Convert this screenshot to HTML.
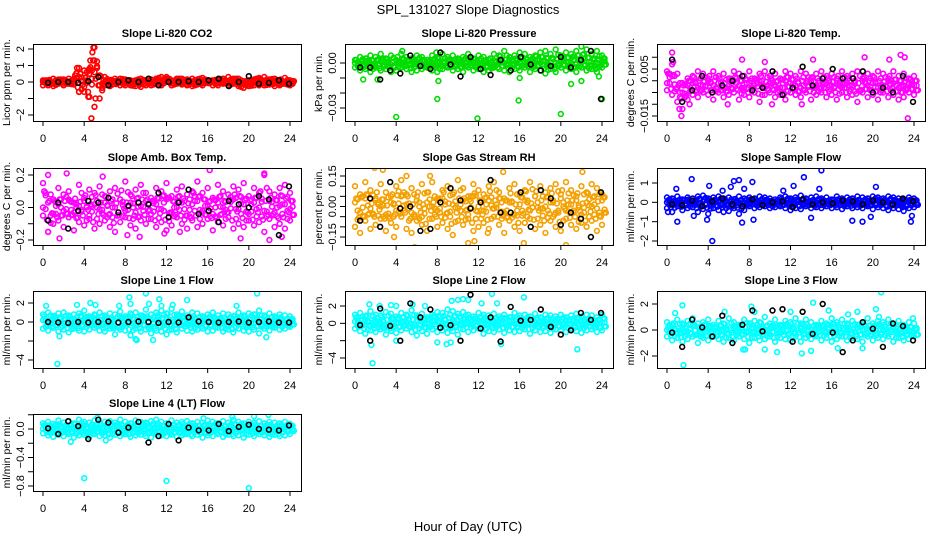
<!DOCTYPE html>
<html><head><meta charset="utf-8"><style>
html,body{margin:0;padding:0;background:#fff;}
svg{display:block;font-family:"Liberation Sans",sans-serif;}
</style></head><body>
<svg id="chart" width="936" height="540" viewBox="0 0 936 540" xmlns="http://www.w3.org/2000/svg">
<rect x="0" y="0" width="936" height="540" fill="#fff"/>
<text x="468" y="14" text-anchor="middle" font-size="13">SPL_131027  Slope Diagnostics</text>
<text x="468" y="531" text-anchor="middle" font-size="13">Hour of Day (UTC)</text>
</svg>
<script>
// ---- data ----
const hourTicks = [0,4,8,12,16,20,24];
const p1A=[-0.2,0.1,0.2,-0.1,0.15,0.2,-0.15,0.85,0.7,0.8,1.3,-0.2,0.3,0.1,0.2,-0.2,0.15,0.1,-0.25,0.2,0.1,0.15,-0.1,0.3,0.2,0.1,-0.1,0.2,0.15,0.2,-0.15,0.25,0.1,-0.2,0.15,0.2,0.3,-0.1,0.2,-0.35,0.1,-0.2,0.25,0.3,-0.15,0.2,0.1,0.25,-0.2];
const p1B=[0.1,-0.2,-0.25,0.15,-0.2,-0.1,0.2,-0.6,-0.6,-0.9,2.1,-1.0,-0.2,-0.25,0.05,0.2,-0.2,-0.2,0.1,-0.3,-0.2,-0.2,0.2,-0.2,0.3,-0.2,0.2,-0.15,-0.2,-0.25,0.15,-0.2,0.1,0.1,-0.2,-0.1,-0.2,0.2,-0.25,-0.1,-0.25,0.15,-0.2,-0.2,0.15,-0.25,-0.2,-0.1,0.1];
const p1C=[0,0.05,-0.05,0,0.05,0,-0.05,0.3,-0.3,0.5,0.6,0.4,0,0.05,-0.05,0,0,0.05,-0.05,0,0.05,0,-0.05,0,0.05,0,0,-0.05,0.05,0,0,-0.05,0.05,0,0,0.05,-0.05,0,0.05,0,-0.05,0,0.05,0,0,-0.05,0.05,0,0];
const p1OutX=[3.3,3.5,4.4,4.6,4.7,4.8,4.9,5.0,5.1,4.5];
const p1OutY=[0.85,-0.6,-0.9,1.3,-2.2,1.8,2.1,-1.5,-1.0,0.7];
const p1K=[-0.05,0,0,-0.05,0.05,0.3,-0.2,0,0.1,0,0.2,-0.2,0,0,0.05,0,0.1,0.2,-0.25,0,0.35,-0.1,-0.05,0.1,-0.1];

const p2A=[0.002,0.004,0.003,0.005,0.004,0.006,0.003,0.005,0.002,0.006,0.004,0.003,0.005,0.004,0.002,0.005,0.003,0.006,0.004,0.005,0.003,0.004,0.006,0.003,0.005,0.004,0.002,0.006,0.005,0.008,0.004,0.005,0.007,0.006,0.004,0.005,0.007,0.008,0.006,0.009,0.005,0.007,0.006,0.008,0.011,0.009,0.006,0.008,0.005];
const p2B=[-0.003,-0.005,-0.004,-0.006,-0.003,-0.005,-0.004,-0.006,-0.005,-0.003,-0.004,-0.006,-0.005,-0.004,-0.003,-0.005,-0.006,-0.004,-0.003,-0.005,-0.004,-0.006,-0.003,-0.005,-0.004,-0.006,-0.005,-0.003,-0.004,-0.005,-0.006,-0.004,-0.005,-0.003,-0.006,-0.004,-0.005,-0.007,-0.004,-0.006,-0.003,-0.005,-0.004,-0.006,-0.003,-0.005,-0.004,-0.006,-0.003];
const p2C=[0,-0.001,0.001,0,-0.002,0.001,0,-0.001,0.002,0,-0.001,0.001,0,0.002,-0.001,0,0.001,-0.002,0,0.001,0,-0.001,0.002,0,-0.001,0.001,0,-0.002,0.001,0,0.002,-0.001,0,0.001,-0.001,0.002,0,0.001,-0.002,0,0.002,0.001,0,-0.001,0.002,0.001,-0.002,0,0.001];
const p2OutX=[0.8,2.2,4.0,4.6,8.0,8.1,11.9,15.9,16.0,20.0,21.0,22.0,23.7,24.0,7.9];
const p2OutY=[-0.011,-0.011,-0.036,0.008,-0.024,-0.012,-0.037,-0.025,-0.01,-0.034,-0.014,-0.012,-0.009,-0.024,0.007];
const p2K=[-0.003,-0.003,-0.011,-0.005,-0.007,0.005,-0.002,-0.004,0.007,-0.001,-0.009,0.004,-0.004,-0.008,0.002,-0.005,0.004,-0.001,-0.005,-0.002,0.004,-0.003,0.002,0.008,-0.024];

const p3A=[0.004,0.007,0.003,-0.001,0.001,0.002,0.004,0.003,0.001,0.004,0.002,0.003,0.001,0.004,0.003,0.002,0.004,0.001,0.003,0.004,0.002,0.003,0.001,0.004,0.003,0.002,0.004,0.003,0.001,0.003,0.004,0.002,0.003,0.001,0.004,0.002,0.003,0.004,0.001,0.003,0.002,0.004,0.003,0.001,0.004,0.002,0.003,0.001,0.002];
const p3B=[-0.004,-0.006,-0.009,-0.012,-0.008,-0.006,-0.007,-0.005,-0.006,-0.008,-0.005,-0.007,-0.006,-0.005,-0.008,-0.006,-0.007,-0.005,-0.009,-0.006,-0.005,-0.007,-0.006,-0.008,-0.005,-0.006,-0.007,-0.005,-0.008,-0.006,-0.005,-0.007,-0.006,-0.008,-0.005,-0.007,-0.006,-0.009,-0.005,-0.007,-0.006,-0.008,-0.005,-0.007,-0.006,-0.008,-0.007,-0.005,-0.006];
const p3C=[-0.001,0.002,-0.003,-0.005,-0.002,-0.001,-0.003,-0.002,0,-0.002,-0.001,-0.003,-0.002,0,-0.002,-0.003,-0.001,-0.002,0,-0.003,-0.001,-0.002,-0.003,0,-0.001,-0.002,-0.003,-0.001,0,-0.002,-0.003,-0.001,-0.002,0,-0.003,-0.001,-0.002,-0.003,0,-0.002,-0.001,-0.003,-0.002,0,-0.001,-0.003,-0.002,-0.001,-0.002];
const p3OutX=[0.5,1.2,1.4,2.2,5.9,7.3,9.5,10.2,13.1,14.2,19.2,21.6,22.7,23.4,23.1,0.6];
const p3OutY=[0.012,-0.012,-0.015,-0.01,-0.01,0.009,0.008,-0.01,-0.01,0.009,0.01,0.009,0.011,-0.016,0.01,0.008];
const p3K=[0.009,-0.009,-0.004,0.002,-0.005,-0.002,0,0.002,-0.004,-0.003,0.004,-0.006,-0.003,0.006,-0.002,0.001,0.005,0.001,0.001,0.004,-0.005,-0.003,-0.005,0.002,-0.009];

const p4A=[0.15,0.2,0.05,0.12,0.08,0.1,0.03,0.14,0.06,0.11,0.09,0.13,0.07,0.1,0.12,0.05,0.16,0.08,0.11,0.14,0.09,0.06,0.12,0.1,0.15,0.07,0.11,0.13,0.08,0.1,0.16,0.09,0.12,0.06,0.14,0.1,0.08,0.13,0.11,0.15,0.07,0.12,0.09,0.2,0.1,0.08,0.12,0.14,0.09];
const p4B=[-0.05,-0.15,-0.1,-0.08,-0.12,-0.06,-0.14,-0.09,-0.11,-0.07,-0.13,-0.1,-0.08,-0.12,-0.15,-0.09,-0.06,-0.11,-0.13,-0.08,-0.1,-0.07,-0.12,-0.09,-0.14,-0.11,-0.06,-0.1,-0.13,-0.08,-0.12,-0.1,-0.07,-0.14,-0.09,-0.11,-0.06,-0.13,-0.1,-0.12,-0.08,-0.11,-0.09,-0.15,-0.07,-0.12,-0.1,-0.13,-0.08];
const p4C=[0,0.03,-0.04,0.02,-0.02,0.05,-0.03,0.01,0.04,-0.05,0.02,-0.01,0.03,-0.04,0,0.05,-0.02,0.03,-0.03,0.01,0.04,-0.04,0.02,-0.01,0.05,-0.03,0,0.03,-0.05,0.02,0.04,-0.02,0.01,-0.04,0.03,0,-0.03,0.05,-0.01,0.02,-0.04,0.03,0,-0.02,0.04,-0.03,0.01,0.02,-0.01];
const p4OutX=[0.5,2.3,1.6,5.8,8.2,13.3,9.4,16.2,19.2,21.5,22.0,23.2,11.8];
const p4OutY=[-0.15,0.21,-0.19,0.19,-0.17,-0.15,-0.18,0.23,-0.19,0.21,-0.2,-0.18,-0.16];
const p4K=[-0.08,0.03,-0.13,-0.02,0.04,0.03,0.06,-0.03,0.01,0.03,0.02,0.09,-0.06,0.03,0.11,-0.04,-0.02,-0.09,0.04,0.02,0,0.07,0.05,-0.17,0.13];

const p5A=[0.1,0.06,0.12,0.08,0.04,0.11,0.07,0.05,0.1,0.13,0.06,0.09,0.05,0.11,0.07,0.12,0.04,0.08,0.1,0.06,0.13,0.09,0.05,0.11,0.08,0.06,0.1,0.12,0.07,0.04,0.09,0.11,0.06,0.08,0.12,0.05,0.1,0.07,0.09,0.11,0.06,0.12,0.08,0.05,0.1,0.07,0.11,0.09,0.06];
const p5B=[-0.1,-0.13,-0.07,-0.11,-0.09,-0.06,-0.12,-0.08,-0.1,-0.05,-0.11,-0.13,-0.07,-0.09,-0.12,-0.06,-0.1,-0.08,-0.11,-0.14,-0.07,-0.09,-0.06,-0.12,-0.1,-0.08,-0.11,-0.05,-0.09,-0.13,-0.07,-0.1,-0.12,-0.08,-0.06,-0.11,-0.09,-0.13,-0.07,-0.1,-0.12,-0.06,-0.09,-0.11,-0.08,-0.1,-0.07,-0.12,-0.09];
const p5C=[0.02,-0.03,0.04,-0.01,0.03,0,-0.04,0.02,-0.02,0.05,0.01,-0.03,0.03,-0.05,0.02,0,-0.02,0.04,-0.03,0.01,-0.01,0.03,-0.04,0.05,0,-0.02,0.03,-0.01,0.04,-0.03,0.02,-0.04,0.01,0.03,-0.02,0.05,-0.01,0,0.02,-0.03,0.04,-0.02,0.01,0.03,-0.04,0.02,0,-0.01,0.03];
const p5OutX=[1.9,2.7,3.8,5.8,7.3,11.0,12.9,14.4,16.4,20.5,22.1,5.0,11.6];
const p5OutY=[0.19,0.18,-0.15,-0.2,0.15,-0.18,-0.13,0.17,-0.18,-0.19,0.17,0.15,-0.17];
const p5K=[-0.07,0.04,-0.1,0.12,-0.01,0,-0.12,-0.11,0.02,0.09,0.03,-0.01,0.02,0.13,-0.03,-0.03,0.07,-0.1,0.08,0.04,-0.09,-0.03,-0.06,-0.15,0.07];

const p6A=[0.25,0.2,0.3,0.15,0.25,0.2,0.3,0.35,0.2,0.25,0.3,0.2,0.25,0.15,0.3,0.2,0.25,0.2,0.3,0.25,0.2,0.15,0.25,0.3,0.2,0.25,0.35,0.2,0.25,0.3,0.2,0.25,0.15,0.3,0.2,0.25,0.2,0.3,0.25,0.2,0.3,0.25,0.2,0.3,0.25,0.2,0.15,0.25,0.2];
const p6B=[-0.3,-0.5,-0.2,-0.4,-0.3,-0.25,-0.5,-0.35,-0.6,-0.3,-0.4,-0.5,-0.45,-0.3,-0.6,-0.4,-0.2,-0.3,-0.25,-0.2,-0.3,-0.25,-0.2,-0.3,-0.4,-0.3,-0.35,-0.2,-0.3,-0.25,-0.3,-0.2,-0.3,-0.25,-0.35,-0.2,-0.3,-0.25,-0.3,-0.2,-0.35,-0.25,-0.3,-0.4,-0.3,-0.35,-0.45,-0.3,-0.25];
const p6C=[0,0.05,-0.05,0,0.1,-0.1,0,0.05,0.1,-0.05,0,0.1,-0.1,0.05,0,-0.05,0.1,0,-0.05,0.05,0,-0.1,0.05,0,0.1,-0.05,0,0.05,-0.1,0,0.05,0,-0.05,0.1,0,-0.05,0.05,0,-0.1,0.05,0,0.1,-0.05,0,0.05,-0.05,0,0.05,0];
const p6OutX=[0.1,0.9,1.0,2.4,2.6,4.1,4.4,5.4,6.5,7.0,7.5,7.3,8.3,8.4,11.3,12.3,13.3,14.0,14.8,15.0,18.0,19.0,19.8,20.3,23.7,23.8,3.9,6.2];
const p6OutY=[-0.5,0.7,-1.0,1.2,-0.7,0.85,-2.0,0.6,1.1,1.15,0.7,-1.05,1.05,-0.9,0.6,0.85,1.3,-0.8,0.7,1.65,-0.95,-1.0,-0.75,0.8,-1.0,-0.7,-0.9,0.8];
const p6K=[-0.1,-0.15,0.1,-0.2,0.05,0.2,-0.1,-0.2,0.15,-0.15,0,0.05,-0.25,0.15,-0.1,0,-0.05,0.1,0.05,-0.1,0.1,0,-0.1,0.2,0.05];

const p7A=[0.8,1.0,0.6,0.9,1.0,0.7,0.8,0.9,1.2,0.6,0.8,1.0,0.7,0.9,0.8,1.1,0.6,0.9,1.0,0.7,1.3,0.8,1.0,1.2,0.9,1.4,0.8,1.1,0.7,1.0,0.9,0.6,0.8,1.0,0.7,0.9,0.8,0.6,1.0,0.7,0.9,0.8,1.2,0.7,0.9,0.6,0.8,0.7,0.6];
const p7B=[-0.7,-0.9,-0.6,-1.0,-0.8,-1.1,-0.7,-0.9,-1.0,-0.8,-0.6,-0.9,-1.0,-0.7,-1.3,-0.8,-0.9,-1.4,-0.7,-1.0,-0.8,-1.2,-0.9,-1.0,-1.3,-0.8,-1.1,-0.7,-0.9,-1.0,-0.8,-0.7,-1.0,-0.9,-0.6,-1.0,-0.8,-1.1,-0.7,-0.9,-1.0,-0.8,-1.2,-0.7,-0.9,-0.6,-0.8,-0.7,-0.5];
const p7C=[0.2,-0.3,0.4,0,-0.2,0.3,-0.4,0.1,0.3,-0.1,0.4,-0.3,0.2,0,-0.4,0.3,-0.2,0.5,-0.3,0.1,0.4,-0.5,0.2,-0.1,0.3,-0.4,0.1,0.5,-0.2,0.3,-0.3,0.2,0,0.4,-0.2,0.1,-0.4,0.3,0,0.2,-0.3,0.4,-0.1,0.2,-0.3,0.1,0.3,-0.2,0];
const p7OutX=[0.3,1.6,1.4,3.3,4.6,5.1,8.4,8.5,9.0,10.0,10.3,11.3,11.5,7.4,12.6,14.0,18.8,20.8,21.7,9.1,10.7];
const p7OutY=[1.7,-1.5,-4.4,1.8,2.0,1.8,2.6,1.9,-1.8,3.0,1.9,2.4,1.7,1.7,1.8,2.3,1.7,3.0,-1.6,-1.9,-1.9];
const p7K=[0,-0.05,-0.1,0,-0.05,0,0.05,-0.05,0,0.05,0,-0.1,0,-0.05,0.5,0.05,0,-0.05,0,0.05,-0.05,0,0.05,-0.05,-0.05];

const p8A=[1.0,1.2,0.8,1.4,1.0,0.9,1.3,1.1,0.8,1.2,1.0,1.5,0.9,1.1,0.7,1.0,1.3,1.2,1.6,1.4,1.1,1.3,1.0,0.8,1.2,1.0,0.9,1.1,0.8,1.0,0.7,1.2,0.9,1.0,0.8,1.1,0.7,1.0,0.9,0.8,1.0,0.7,0.9,1.1,0.8,1.0,0.9,0.7,1.0];
const p8B=[-0.6,-0.9,-1.2,-0.8,-1.0,-0.7,-1.3,-0.9,-1.1,-0.8,-0.6,-1.0,-1.4,-0.9,-1.2,-0.7,-1.0,-0.8,-1.1,-0.9,-1.3,-0.7,-1.0,-0.8,-0.6,-1.2,-0.9,-1.0,-0.7,-1.1,-0.8,-1.0,-0.9,-0.7,-1.2,-0.8,-1.0,-0.9,-1.1,-0.7,-0.8,-1.0,-0.6,-0.9,-1.1,-0.8,-0.7,-1.0,-0.8];
const p8C=[0.2,0,0.4,-0.2,0.3,0.1,-0.3,0.5,0,0.3,0.2,-0.1,0.4,0.2,0,0.3,0.5,0.1,-0.2,0.4,0.3,0.1,0.5,0,0.2,0.4,-0.1,0.3,0.1,0.5,0.2,0,0.3,-0.2,0.4,0.1,0.2,-0.1,0.3,0,0.2,0.4,-0.1,0.1,0.3,0,0.2,-0.2,0.1];
const p8OutX=[1.4,1.7,1.6,2.4,3.5,4.0,5.6,6.8,8.0,8.9,9.4,10.0,10.5,11.0,12.3,13.3,13.8,14.2,16.4,21.6,9.3,4.0];
const p8OutY=[2.2,-4.6,-2.5,2.0,2.1,-2.0,2.2,2.0,-2.2,-2.4,2.6,2.7,2.8,2.7,2.3,3.4,2.3,-2.4,3.0,-3.0,-2.2,2.0];
const p8K=[-0.2,-2.0,1.7,-0.3,-2.0,2.3,0.7,1.6,-0.5,-0.2,-2.0,3.3,-0.6,0.7,-2.1,1.9,0.3,0.4,1.6,-0.4,-1.3,-0.8,1.2,0.4,1.2];

const p9A=[0.6,0.4,0.8,0.5,0.7,0.9,0.5,0.6,0.8,0.4,0.7,0.5,0.9,0.6,0.4,0.8,0.5,0.7,0.6,1.0,0.5,0.8,0.4,0.7,0.6,0.9,0.5,0.8,0.6,0.4,0.7,0.5,0.9,0.6,0.8,0.5,0.7,0.4,0.6,0.9,0.5,0.7,0.6,0.8,0.5,0.7,0.4,0.6,0.5];
const p9B=[-0.5,-0.8,-0.6,-0.9,-0.7,-0.5,-1.0,-0.6,-0.8,-0.5,-0.7,-0.9,-0.6,-0.8,-0.5,-0.7,-1.0,-0.6,-0.8,-0.7,-0.5,-0.9,-0.6,-0.7,-0.8,-0.5,-0.9,-0.6,-0.7,-0.5,-0.8,-0.6,-0.9,-0.7,-0.5,-0.8,-0.6,-0.7,-0.9,-0.5,-0.8,-0.6,-0.7,-0.5,-0.9,-0.6,-0.8,-0.7,-0.5];
const p9C=[0,0.2,-0.2,0.1,-0.1,0.3,-0.3,0,0.2,-0.2,0.1,0,-0.3,0.2,0,-0.1,0.3,-0.2,0.1,0,-0.3,0.2,-0.1,0.3,0,-0.2,0.1,0.2,-0.3,0,0.2,-0.1,0.3,0,-0.2,0.1,-0.3,0.2,0,0.1,-0.2,0.3,0,-0.1,0.2,-0.3,0.1,0,-0.2];
const p9OutX=[0.8,1.5,1.6,5.6,7.4,7.6,8.2,8.5,9.5,10.7,12.0,13.1,14.2,14.0,15.7,16.6,17.6,18.5,19.0,20.8,20.3,23.9,20.6];
const p9OutY=[1.3,1.9,-2.7,1.4,-1.5,-1.5,1.8,1.4,-1.5,-1.7,1.4,-1.8,2.1,-1.6,1.5,-1.4,1.2,1.4,-1.4,2.9,1.6,0.9,1.0];
const p9K=[-0.2,-1.3,0.8,0.2,-0.5,1.1,-1.0,0.4,1.5,-0.1,1.5,1.6,-0.9,1.4,-0.3,2.0,-0.2,-1.7,-0.8,0.6,0.1,-1.3,0.5,0.3,-0.8];

const p10A=[0.08,0.1,0.07,0.12,0.09,0.11,0.08,0.13,0.1,0.09,0.12,0.08,0.1,0.11,0.09,0.13,0.1,0.08,0.12,0.1,0.09,0.11,0.13,0.1,0.08,0.12,0.09,0.1,0.11,0.08,0.1,0.09,0.12,0.1,0.08,0.11,0.09,0.13,0.1,0.08,0.1,0.09,0.11,0.08,0.1,0.09,0.08,0.1,0.07];
const p10B=[-0.06,-0.09,-0.11,-0.08,-0.1,-0.07,-0.12,-0.09,-0.08,-0.11,-0.07,-0.1,-0.09,-0.12,-0.08,-0.1,-0.07,-0.11,-0.09,-0.08,-0.1,-0.12,-0.07,-0.09,-0.1,-0.08,-0.11,-0.09,-0.07,-0.1,-0.08,-0.12,-0.09,-0.1,-0.07,-0.11,-0.08,-0.1,-0.09,-0.12,-0.08,-0.1,-0.07,-0.09,-0.11,-0.08,-0.1,-0.09,-0.07];
const p10C=[0,0.03,-0.03,0.05,-0.04,0.02,0,-0.02,0.04,-0.05,0.03,0,-0.03,0.05,-0.01,0.02,-0.04,0.03,0,-0.03,0.04,-0.02,0.05,0,-0.04,0.02,-0.01,0.03,-0.05,0.04,0,-0.02,0.03,-0.03,0.05,0,-0.04,0.02,-0.01,0.04,-0.03,0.02,0,-0.02,0.03,-0.04,0.01,0,0.02];
const p10OutX=[2.7,4.0,6.1,12.0,20.0,20.5,21.9,18.4,15.6,5.3];
const p10OutY=[-0.18,-0.69,-0.16,-0.73,-0.83,0.18,0.2,0.17,0.15,0.16];
const p10K=[0.01,-0.07,0.11,0.04,-0.14,0.13,0.09,-0.05,0.02,0.1,-0.19,-0.1,0.07,-0.16,0.02,-0.02,-0.02,0.07,-0.03,0.03,0.06,0,-0.01,-0.02,0.05];

const titles=["Slope Li-820 CO2","Slope Li-820 Pressure","Slope Li-820 Temp.","Slope Amb. Box Temp.","Slope Gas Stream RH","Slope Sample Flow","Slope Line 1 Flow","Slope Line 2 Flow","Slope Line 3 Flow","Slope Line 4 (LT) Flow"];
const yLabels=["Licor ppm per min.","kPa per min.","degrees C per min.","degrees C per min.","percent per min.","ml/min per min.","ml/min per min.","ml/min per min.","ml/min per min.","ml/min per min."];
const yTickVals=[[-2,-1,0,1,2],[-0.03,-0.02,-0.01,0],[-0.015,-0.01,-0.005,0,0.005,0.01],[-0.2,-0.1,0,0.1,0.2],[-0.15,-0.1,-0.05,0,0.05,0.1,0.15],[-2,-1,0,1],[-4,-2,0,2],[-4,-2,0,2],[-2,0,2],[-0.8,-0.6,-0.4,-0.2,0,0.2]];
const yTickText=[["−2","","0","1","2"],["−0.03","","","0.00"],["−0.015","","","","0.005",""],["−0.2","","0.0","","0.2"],["−0.15","","","0.00","","","0.15"],["−2","−1","0","1"],["−4","","0","2"],["−4","","0","2"],["−2","0","2"],["−0.8","","−0.4","","0.0",""]];
const seriesA=[p1A,p2A,p3A,p4A,p5A,p6A,p7A,p8A,p9A,p10A];
const seriesB=[p1B,p2B,p3B,p4B,p5B,p6B,p7B,p8B,p9B,p10B];
const seriesC=[p1C,p2C,p3C,p4C,p5C,p6C,p7C,p8C,p9C,p10C];
const outX=[p1OutX,p2OutX,p3OutX,p4OutX,p5OutX,p6OutX,p7OutX,p8OutX,p9OutX,p10OutX];
const outY=[p1OutY,p2OutY,p3OutY,p4OutY,p5OutY,p6OutY,p7OutY,p8OutY,p9OutY,p10OutY];
const blackSeries=[p1K,p2K,p3K,p4K,p5K,p6K,p7K,p8K,p9K,p10K];

// ---- layout (pixels) ----
const colors=["#ff0000","#00dd00","#ff00ff","#ff00ff","#f4a000","#0000ff","#00ffff","#00ffff","#00ffff","#00ffff"];
const colLeft=[33,345,657], boxW=268;
const rowTop=[44,168,291,414], boxH=77;
const yAnchors=[[2,49,-2,115],[0,63,-0.03,108],[0.005,69,-0.015,116],[0.2,175,-0.2,240],[0.15,176,-0.15,237],[1,183,-2,241],[2,303,-4,360],[2,306,-4,358],[2,304,-2,356],[0,429,-0.8,486]];

const NS="http://www.w3.org/2000/svg";
const svg=document.getElementById('chart');
function mk(tag,attrs,parent){const e=document.createElementNS(NS,tag);for(const k in attrs)e.setAttribute(k,attrs[k]);(parent||svg).appendChild(e);return e;}

for(let p=0;p<10;p++){
  const col=p%3,row=Math.floor(p/3);
  const L=colLeft[col],T=rowTop[row],R=L+boxW,B=T+boxH;
  const g=mk('g',{});
  
  
  const xs=h=>L+10+h*(boxW-21)/24;
  const a=yAnchors[p];
  const ys=v=>a[1]+(v-a[0])*(a[3]-a[1])/(a[2]-a[0]);
  const cp=mk('clipPath',{id:'clip'+p},g);
  mk('rect',{x:L,y:T,width:boxW,height:boxH},cp);
  const pts=mk('g',{'clip-path':'url(#clip'+p+')'},g);
  
  
  const col1=colors[p];
  const drawPt=(x,y,c)=>{
    const e=mk('circle',{cx:xs(x).toFixed(1),cy:ys(y).toFixed(1),r:2.4,fill:'none',stroke:c,'stroke-width':1.6},pts);
    
    
  };
  const A=seriesA[p],Bs=seriesB[p],C=seriesC[p];
  const n=A.length;
  for(let i=0;i<n;i++){
    const x=i*24/(n-1);
    const j=Math.min(i+1,n-1);
    drawPt(x,A[i],col1);
    drawPt(x,Bs[i],col1);
    drawPt(x,C[i],col1);
    drawPt(x+0.25,(A[i]+C[j])/2,col1);
    drawPt(x+0.25,(Bs[i]+C[j])/2,col1);
    drawPt(x+0.12,(A[j]+C[i])/2,col1);
    drawPt(x+0.38,(Bs[j]+C[i])/2,col1);
    drawPt(x+0.25,(A[j]+Bs[i])/2,col1);
  }
  outX[p].forEach((x,i)=>drawPt(x,outY[p][i],col1));
  const k=blackSeries[p];
  k.forEach((v,i)=>drawPt(0.5+i*23.4/(k.length-1),v,'#000'));
  const bx=mk('rect',{x:L+0.5,y:T+0.5,width:boxW,height:boxH,fill:'none',stroke:'#000','stroke-width':1},g);
  
  
  hourTicks.forEach(h=>{
    const x=xs(h);
    mk('line',{x1:x,y1:B,x2:x,y2:B+5,stroke:'#000'},g);
    const t=mk('text',{x:x,y:B+21,'text-anchor':'middle','font-size':11},g);
    t.textContent=h;
    
    
  });
  yTickVals[p].forEach((v,i)=>{
    const y=ys(v);
    mk('line',{x1:L-5,y1:y,x2:L,y2:y,stroke:'#000'},g);
    const s=yTickText[p][i];
    if(s){
      const t=mk('text',{x:L-9,y:y,'text-anchor':'middle','font-size':11,transform:'rotate(-90 '+(L-9)+' '+y+')'},g);
      t.textContent=s;
      
      
    }
  });
  const cy=T+boxH/2;
  const yl=mk('text',{x:L-23,y:cy,'text-anchor':'middle','font-size':10.5,transform:'rotate(-90 '+(L-23)+' '+cy+')'},g);
  yl.textContent=yLabels[p];
  
  
  const tt=mk('text',{x:L+boxW/2,y:T-7,'text-anchor':'middle','font-size':11,'font-weight':'bold'},g);
  tt.textContent=titles[p];
  
  
}
</script>
</body></html>
